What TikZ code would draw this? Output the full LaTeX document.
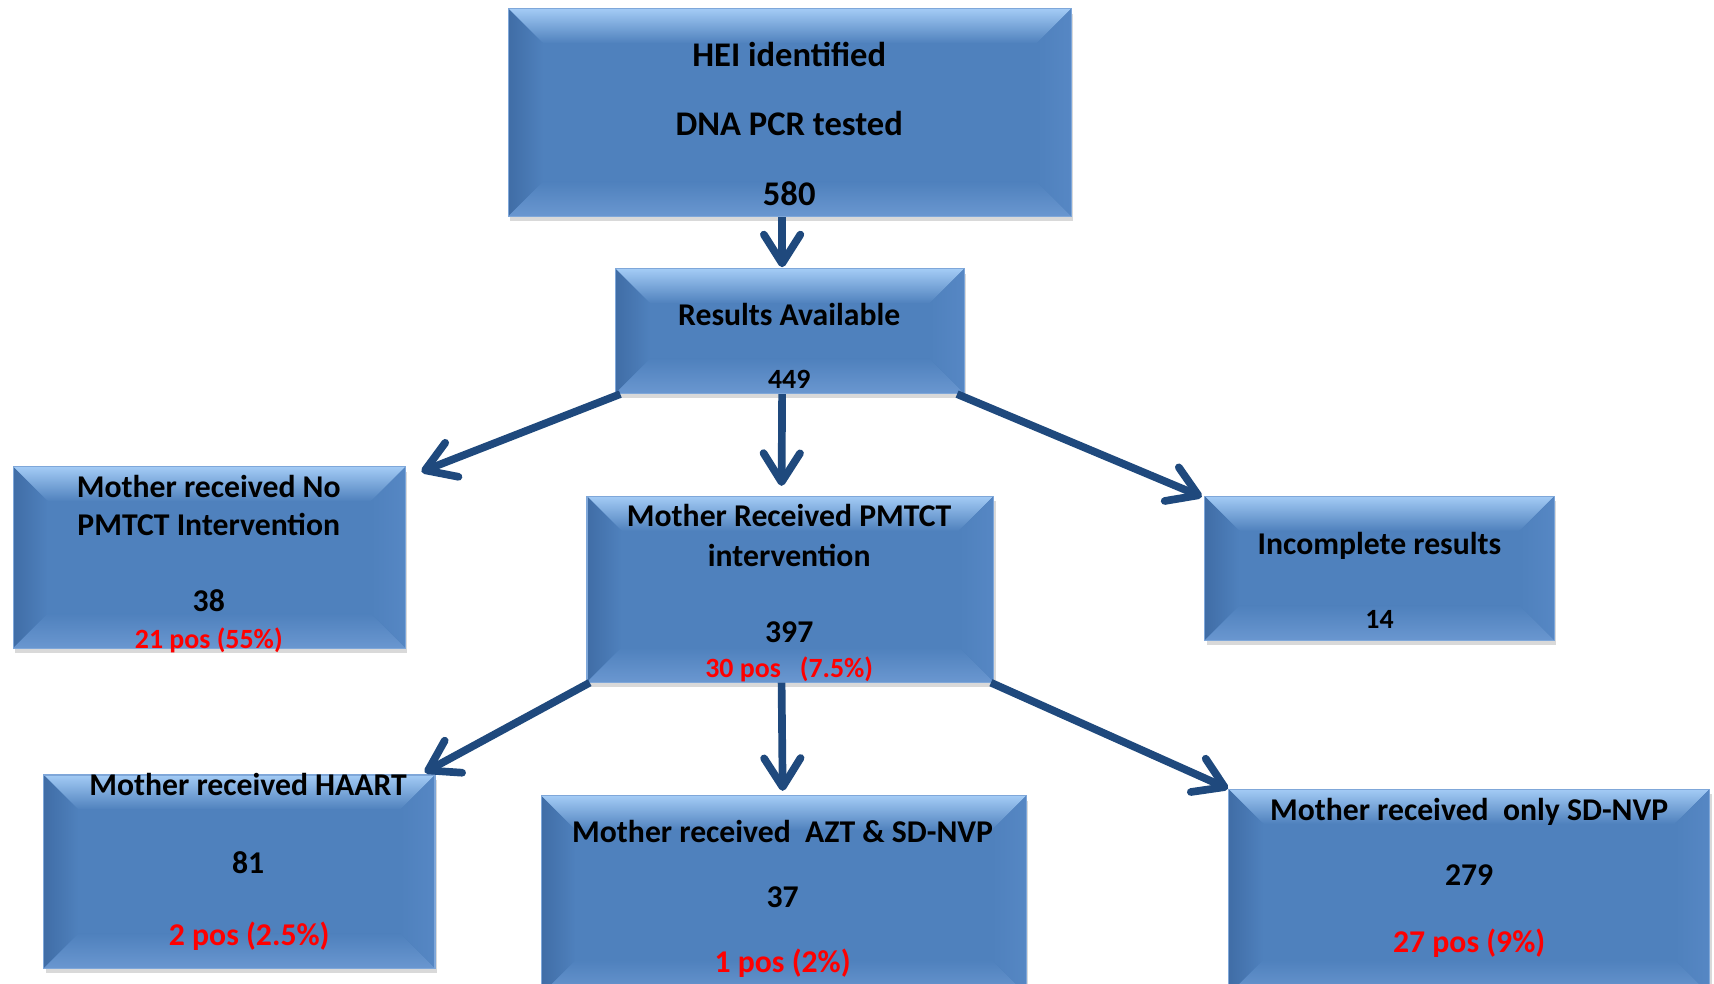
\documentclass[tikz,border=0pt]{standalone}
\usepackage{fontspec}
\setmainfont{Carlito}
\usetikzlibrary{arrows.meta,calc,shadows}
\definecolor{caixa}{HTML}{4F81BD}
\definecolor{caixatopo}{HTML}{A3CBF5}
\definecolor{caixaesq}{HTML}{406DA6}
\definecolor{caixadir}{HTML}{5687C4}
\definecolor{caixabase}{HTML}{6A97D0}
\definecolor{caixalinha}{HTML}{7FA7D9}
\definecolor{seta}{HTML}{1F497D}
\definecolor{positivo}{HTML}{FF0000}

\begin{document}
\begin{tikzpicture}[x=0.2mm,y=-0.2mm,
  box/.style={fill=caixa,draw=caixalinha,line width=0.6pt,
    drop shadow={shadow xshift=1pt,shadow yshift=-2.5pt,opacity=0.3},
    path picture={
      \path (path picture bounding box.north west) coordinate (pnw)
            (path picture bounding box.north east) coordinate (pne)
            (path picture bounding box.south west) coordinate (psw)
            (path picture bounding box.south east) coordinate (pse);
      \fill[top color=caixatopo,bottom color=caixa] (pnw) -- (pne)
        -- ([shift={(-18pt,-18pt)}]pne) -- ([shift={(18pt,-18pt)}]pnw) -- cycle;
      \fill[left color=caixaesq,right color=caixa] (pnw) -- ([shift={(18pt,-18pt)}]pnw)
        -- ([shift={(18pt,18pt)}]psw) -- (psw) -- cycle;
      \fill[right color=caixadir,left color=caixa] (pne) -- ([shift={(-18pt,-18pt)}]pne)
        -- ([shift={(-18pt,18pt)}]pse) -- (pse) -- cycle;
      \fill[bottom color=caixabase,top color=caixa] (psw) -- ([shift={(18pt,18pt)}]psw)
        -- ([shift={(-18pt,18pt)}]pse) -- (pse) -- cycle;
    }},
  txt/.style={font=\fontsize{16.5}{20}\selectfont\bfseries,anchor=base},
  big/.style={txt,font=\fontsize{18}{22}\selectfont\bfseries},
  small/.style={txt,font=\fontsize{14.5}{18}\selectfont\bfseries},
  postxt/.style={text=positivo},
  arr/.style={-{Straight Barb[length=15pt,width=19pt,round]},line width=4pt,seta}
]
  \useasboundingbox (0,0) rectangle (1568,900);
  \clip (0,0) rectangle (1568,900);

  % caixas
  \node[box,minimum width=103mm,minimum height=38mm] (hei) at (722.5,103) {};
  \node[box,minimum width=63.8mm,minimum height=22.8mm] (res) at (722.5,303) {};
  \node[box,minimum width=71.8mm,minimum height=33.2mm] (nopm) at (191.5,510) {};
  \node[box,minimum width=74.4mm,minimum height=34mm] (pmtct) at (723,539) {};
  \node[box,minimum width=64mm,minimum height=26.4mm] (inc) at (1262,520) {};
  \node[box,minimum width=71.6mm,minimum height=35.4mm] (haart) at (219,797.5) {};
  \node[box,minimum width=88.8mm,minimum height=36.4mm] (azt) at (717,819) {};
  \node[box,minimum width=88mm,minimum height=37.6mm] (sd) at (1344,816) {};

  % setas
  \draw[arr] ($(hei.south)+(-7,0)$) -- ($(res.north)+(-7,-1)$);
  \draw[arr] ($(res.south west)+(5,0)$) -- ($(nopm.north east)+(14,5)$);
  \draw[arr] ($(res.south)+(-7,0)$) -- ($(pmtct.north)+(-8,-9)$);
  \draw[arr] ($(res.south east)+(-7,0)$) -- ($(inc.north west)+(-2,1)$);
  \draw[arr] ($(pmtct.south west)+(3,0)$) -- ($(haart.north east)+(-10,-2)$);
  \draw[arr] ($(pmtct.south)+(-8,0)$) -- ($(azt.north)+(-1,-4)$);
  \draw[arr] ($(pmtct.south east)+(-3,0)$) -- (sd.north west);

  % textos
  \node[big] (hei1) at (722,61) {HEI identified};
  \node[big] (hei2) at (722,124) {DNA PCR tested};
  \node[big] (hei3) at (722,188) {580};
  \node[txt] (res1) at (722,298) {Results Available};
  \node[small] (res2) at (722,355) {449};
  \node[txt] (nopm1) at (191,455) {Mother received No};
  \node[txt] (nopm2) at (191,490) {PMTCT Intervention};
  \node[txt] (nopm3) at (191,559) {38};
  \node[small,postxt] (nopm4) at (191,593) {21 pos (55\%)};
  \node[txt] (pmtct1) at (722,482) {Mother Received PMTCT};
  \node[txt] (pmtct2) at (722,518) {intervention};
  \node[txt] (pmtct3) at (722,588) {397};
  \node[small,postxt] (pmtct4) at (722,620) {30 pos\ \ \ (7.5\%)};
  \node[txt] (inc1) at (1262,507) {Incomplete results};
  \node[small] (inc2) at (1262,575) {14};
  \node[txt] (haart1) at (227,728) {Mother received HAART};
  \node[txt] (haart2) at (227,799) {81};
  \node[txt,postxt] (haart3) at (228,865) {2 pos (2.5\%)};
  \node[txt] (azt1) at (716,771) {Mother received\ \ AZT \& SD-NVP};
  \node[txt] (azt2) at (716,830) {37};
  \node[txt,postxt] (azt3) at (716,890) {1 pos (2\%)};
  \node[txt] (sd1) at (1344,751) {Mother received\ \ only SD-NVP};
  \node[txt] (sd2) at (1344,810) {279};
  \node[txt,postxt] (sd3) at (1344,871) {27 pos (9\%)};
\end{tikzpicture}
\end{document}
